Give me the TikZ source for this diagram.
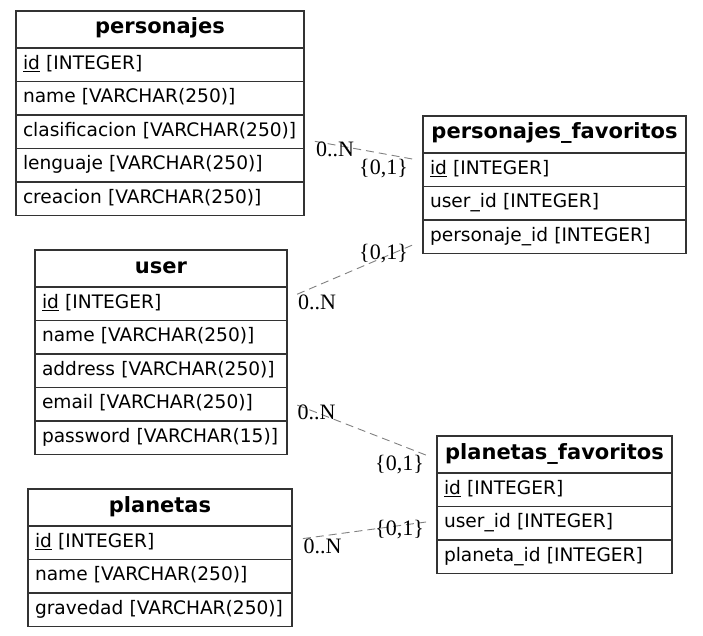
\documentclass[tikz,border=0pt]{standalone}
\usepackage{fontspec}
\usepackage{tikz}
\usetikzlibrary{positioning, fit}
\newfontfamily\dejavu{DejaVu Sans}
\newfontfamily\cardserif{Liberation Serif}
\tikzset{%
	tblhead/.style={
		draw=black!80,
		line width=1.5pt,
		outer sep=0pt,
		inner xsep=0pt,
		inner ysep=0pt,
		minimum height=37pt,
		text height=15pt,
		text depth=6pt,
		align=center,
		font=\dejavu\bfseries\fontsize{21}{25}\selectfont
	},
	tblfield/.style={
		draw=black!80,
		line width=1.5pt,
		outer sep=0pt,
		inner xsep=7pt,
		inner ysep=0pt,
		minimum height=33.5pt,
		text height=13.5pt,
		text depth=4.5pt,
		align=left,
		font=\dejavu\fontsize{18.6}{22}\selectfont
	},
}

\begin{document}
\begin{tikzpicture}[
			x=1pt, y=-1pt,
			rel/.style={draw=gray, line width=0.9pt, dash pattern=on 8pt off 5pt, shorten <=11pt, shorten >=11pt},
			card/.style={inner sep=0pt, font=\cardserif\fontsize{22}{26}\selectfont},
			table/.style={fit=#1, inner sep=0pt, outer sep=0pt}
			]
			\useasboundingbox (0,0) rectangle (703,636);
			
			% Tables
			\node[tblhead, text width=288pt, anchor=north west] (pj0) at (16,11) {personajes};
			\node[tblfield, text width=274pt, below=0pt of pj0] (pj1) {\underline{id} [INTEGER]};
			\node[tblfield, text width=274pt, below=0pt of pj1] (pj2) {name [VARCHAR(250)]};
			\node[tblfield, text width=274pt, below=0pt of pj2] (pj3) {clasificacion [VARCHAR(250)]};
			\node[tblfield, text width=274pt, below=0pt of pj3] (pj4) {lenguaje [VARCHAR(250)]};
			\node[tblfield, text width=274pt, below=0pt of pj4] (pj5) {creacion [VARCHAR(250)]};
			\node[table=(pj0)(pj5)] (personajes) {};
			
			\node[tblhead, text width=263pt, anchor=north west] (pf0) at (423,116) {personajes\_favoritos};
			\node[tblfield, text width=249pt, below=0pt of pf0] (pf1) {\underline{id} [INTEGER]};
			\node[tblfield, text width=249pt, below=0pt of pf1] (pf2) {user\_id [INTEGER]};
			\node[tblfield, text width=249pt, below=0pt of pf2] (pf3) {personaje\_id [INTEGER]};
			\node[table=(pf0)(pf3)] (persfav) {};
			
			\node[tblhead, text width=252pt, anchor=north west] (us0) at (35,250) {user};
			\node[tblfield, text width=238pt, below=0pt of us0] (us1) {\underline{id} [INTEGER]};
			\node[tblfield, text width=238pt, below=0pt of us1] (us2) {name [VARCHAR(250)]};
			\node[tblfield, text width=238pt, below=0pt of us2] (us3) {address [VARCHAR(250)]};
			\node[tblfield, text width=238pt, below=0pt of us3] (us4) {email [VARCHAR(250)]};
			\node[tblfield, text width=238pt, below=0pt of us4] (us5) {password [VARCHAR(15)]};
			\node[table=(us0)(us5)] (user) {};
			
			\node[tblhead, text width=235pt, anchor=north west] (lf0) at (437,436) {planetas\_favoritos};
			\node[tblfield, text width=221pt, below=0pt of lf0] (lf1) {\underline{id} [INTEGER]};
			\node[tblfield, text width=221pt, below=0pt of lf1] (lf2) {user\_id [INTEGER]};
			\node[tblfield, text width=221pt, below=0pt of lf2] (lf3) {planeta\_id [INTEGER]};
			\node[table=(lf0)(lf3)] (planfav) {};
			
			\node[tblhead, text width=264pt, anchor=north west] (pl0) at (28,489) {planetas};
			\node[tblfield, text width=250pt, below=0pt of pl0] (pl1) {\underline{id} [INTEGER]};
			\node[tblfield, text width=250pt, below=0pt of pl1] (pl2) {name [VARCHAR(250)]};
			\node[tblfield, text width=250pt, below=0pt of pl2] (pl3) {gravedad [VARCHAR(250)]};
			\node[table=(pl0)(pl3)] (planetas) {};
			
			% Relations
			\draw[rel] (personajes) -- (persfav);
			\draw[rel] (user) -- (persfav);
			\draw[rel] (user) -- (planfav);
			\draw[rel] (planetas) -- (planfav);
			
			\node[card] (c1a) at (335,149) {0..N};
			\node[card] (c1b) at (383.5,168.5) {\{0,1\}};
			\node[card] (c2a) at (317,302) {0..N};
			\node[card] (c2b) at (383.5,254) {\{0,1\}};
			\node[card] (c3a) at (316.5,412) {0..N};
			\node[card] (c3b) at (399.5,464.5) {\{0,1\}};
			\node[card] (c4a) at (322.5,546) {0..N};
			\node[card] (c4b) at (399.5,530) {\{0,1\}};
			
		\end{tikzpicture}
\end{document}
